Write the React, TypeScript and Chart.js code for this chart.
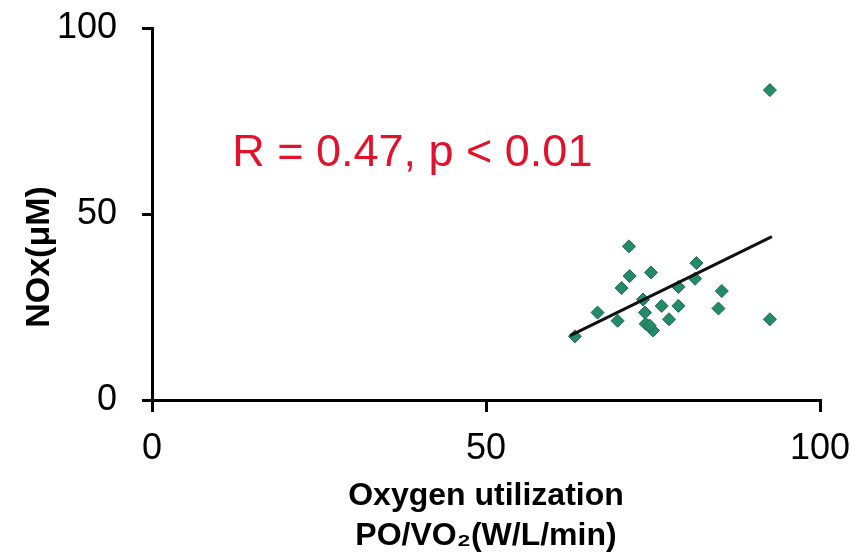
import React, { useEffect, useRef } from "react";
import { Chart, registerables } from "chart.js";

Chart.register(...registerables);

// Scatter data: Oxygen utilization (PO/VO2) vs NOx (μM)
const poVo2 = [71.4, 81.5, 71.5, 74.7, 81.3, 70.3, 78.8, 85.3, 73.5, 66.7, 73.8, 76.3, 78.8, 84.8, 69.7, 77.4, 73.9, 75.0, 74.5, 63.3, 92.5, 92.5];
const nox = [41.3, 36.8, 33.3, 34.3, 32.6, 30.1, 30.4, 29.3, 27.0, 23.5, 23.5, 25.3, 25.3, 24.6, 21.3, 21.7, 20.5, 18.7, 20.0, 17.1, 21.7, 83.3];

// Regression line end points
const fitX = [62.6, 92.8];
const fitY = [17.3, 43.9];

const xTicks = [0, 50, 100];
const yTicks = [0, 50, 100];

const xTitle = ["Oxygen utilization", "PO/VO\u2082(W/L/min)"];
const yTitle = "NOx(\u03BCM)";
const statText = "R = 0.47, p < 0.01";

const SANS = "'Liberation Sans', Arial, sans-serif";

export default function App() {
  const ref = useRef<HTMLCanvasElement | null>(null);

  useEffect(() => {
    if (!ref.current) return;

    const annot = {
      id: "annot",
      afterDraw(chart: any) {
        const ctx = chart.ctx;
        const xs = chart.scales.x;
        const ys = chart.scales.y;
        ctx.save();
        // statistic text
        ctx.fillStyle = "#e3112b";
        ctx.font = `45px ${SANS}`;
        ctx.textAlign = "left";
        ctx.textBaseline = "alphabetic";
        ctx.fillText(statText, xs.getPixelForValue(12), ys.getPixelForValue(62.9));
        ctx.restore();

        // y-axis title
        ctx.save();
        ctx.fillStyle = "#000";
        ctx.font = `bold 34px ${SANS}`;
        ctx.translate(40, 257);
        ctx.rotate(-Math.PI / 2);
        ctx.textAlign = "center";
        ctx.textBaseline = "middle";
        ctx.fillText(yTitle, 0, 0);
        ctx.restore();
      },
    };

    const chart = new Chart(ref.current, {
      type: "scatter",
      data: {
        datasets: [
          {
            type: "line",
            data: fitX.map((x, i) => ({ x, y: fitY[i] })),
            borderColor: "#111",
            borderWidth: 3,
            pointRadius: 0,
            fill: false,
            order: 0,
          } as any,
          {
            type: "scatter",
            data: poVo2.map((x, i) => ({ x, y: nox[i] })),
            pointStyle: "rectRot",
            pointRadius: 6.5,
            backgroundColor: "#248a68",
            borderColor: "#1a6a4e",
            borderWidth: 1,
            order: 1,
          },
        ],
      },
      plugins: [annot],
      options: {
        responsive: false,
        animation: false,
        events: [],
        layout: { padding: { top: 28, right: 31, bottom: 0, left: 0 } },
        plugins: { legend: { display: false }, tooltip: { enabled: false } },
        scales: {
          x: {
            type: "linear",
            position: "bottom",
            min: 0,
            max: 100,
            afterBuildTicks: (s: any) => {
              s.ticks = xTicks.map((v) => ({ value: v }));
            },
            afterFit: (s: any) => {
              s.height = 156;
              s.paddingLeft = 0;
              s.paddingRight = 0;
            },
            ticks: {
              color: "#000",
              font: { family: SANS, size: 36 },
              padding: 15,
              maxRotation: 0,
              autoSkip: false,
            },
            grid: {
              drawOnChartArea: false,
              drawTicks: true,
              tickLength: 12,
              color: "#000",
              lineWidth: 3,
            },
            border: { display: true, color: "#000", width: 3 },
            title: {
              display: true,
              text: xTitle,
              color: "#000",
              font: { family: SANS, size: 32, weight: "bold", lineHeight: 1.25 },
              padding: { top: 0, bottom: 0 },
            },
          },
          y: {
            type: "linear",
            min: 0,
            max: 100,
            afterBuildTicks: (s: any) => {
              s.ticks = yTicks.map((v) => ({ value: v }));
            },
            afterFit: (s: any) => {
              s.width = 152;
              s.paddingTop = 0;
              s.paddingBottom = 0;
            },
            ticks: {
              color: "#000",
              font: { family: SANS, size: 36 },
              padding: 25,
              autoSkip: false,
            },
            grid: {
              drawOnChartArea: false,
              drawTicks: true,
              tickLength: 10,
              color: "#000",
              lineWidth: 3,
            },
            border: { display: true, color: "#000", width: 3 },
          },
        },
      },
    });

    return () => chart.destroy();
  }, []);

  return (
    <div style={{ position: "absolute", left: 0, top: 0, width: 851, height: 556, background: "#fff" }}>
      <canvas ref={ref} width={851} height={556} />
    </div>
  );
}
